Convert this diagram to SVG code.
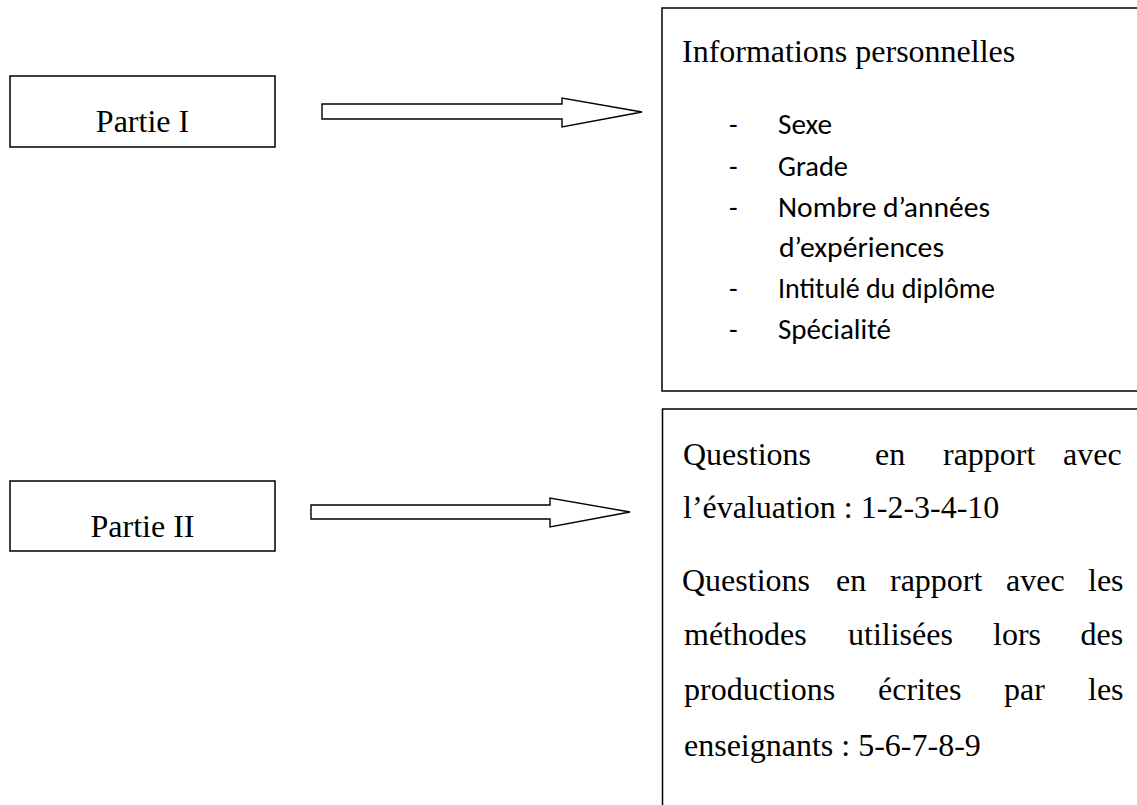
<svg xmlns="http://www.w3.org/2000/svg" width="1137" height="805" viewBox="0 0 1137 805">
<style>
.box{fill:#fff;stroke:#000;stroke-width:1.5}
.open{fill:none;stroke:#000;stroke-width:1.5}
.arrow{fill:#fff;stroke:#000;stroke-width:1.4;stroke-linejoin:miter}
.serif{font-family:"Liberation Serif","Times New Roman",serif;font-size:32px;fill:#000}
.sans{font-family:Carlito,Calibri,Lato,"Open Sans",sans-serif;font-size:28px;fill:#000}
</style>
<rect width="1137" height="805" fill="#fff"/>
<g id="partie1">
<rect class="box" x="10" y="76" width="265" height="71"/>
<text class="serif" x="142.5" y="132" text-anchor="middle">Partie I</text>
</g>
<g id="partie2">
<rect class="box" x="10" y="481" width="265" height="70"/>
<text class="serif" x="142.5" y="537" text-anchor="middle">Partie II</text>
</g>
<g id="connectors">
<path class="arrow" d="M322,104 H562 V98 L642,112 L562,127 V119 H322 Z"/>
<path class="arrow" d="M311,505 H550 V498 L630,512 L550,527 V519 H311 Z"/>
</g>
<g id="info">
<path class="open" d="M1140,8 H662 V391 H1140"/>
<text class="serif" x="682" y="62">Informations personnelles</text>
<text class="sans" x="729" y="134">-</text>
<text class="sans" x="778" y="134" textLength="54" lengthAdjust="spacingAndGlyphs">Sexe</text>
<text class="sans" x="729" y="176">-</text>
<text class="sans" x="778" y="176" textLength="70" lengthAdjust="spacingAndGlyphs">Grade</text>
<text class="sans" x="729" y="217">-</text>
<text class="sans" x="778" y="217" textLength="212" lengthAdjust="spacingAndGlyphs">Nombre d’années</text>
<text class="sans" x="779" y="257" textLength="165" lengthAdjust="spacingAndGlyphs">d’expériences</text>
<text class="sans" x="729" y="298">-</text>
<text class="sans" x="778" y="298" textLength="217" lengthAdjust="spacingAndGlyphs">Intitulé du diplôme</text>
<text class="sans" x="729" y="339">-</text>
<text class="sans" x="778" y="339" textLength="113" lengthAdjust="spacingAndGlyphs">Spécialité</text>
</g>
<g id="questions">
<path class="open" d="M1140,409 H662.5 V810"/>
<text class="serif" y="465"><tspan x="683">Questions</tspan><tspan x="875">en</tspan><tspan x="943">rapport</tspan><tspan x="1063">avec</tspan></text>
<text class="serif" x="683" y="518">l’évaluation : 1-2-3-4-10</text>
<text class="serif" y="591"><tspan x="682">Questions</tspan><tspan x="836">en</tspan><tspan x="890">rapport</tspan><tspan x="1006">avec</tspan><tspan x="1088">les</tspan></text>
<text class="serif" y="645"><tspan x="684">méthodes</tspan><tspan x="848">utilisées</tspan><tspan x="993">lors</tspan><tspan x="1080.5">des</tspan></text>
<text class="serif" y="700"><tspan x="684">productions</tspan><tspan x="878">écrites</tspan><tspan x="1004">par</tspan><tspan x="1088">les</tspan></text>
<text class="serif" x="684" y="756">enseignants : 5-6-7-8-9</text>
</g>
</svg>
